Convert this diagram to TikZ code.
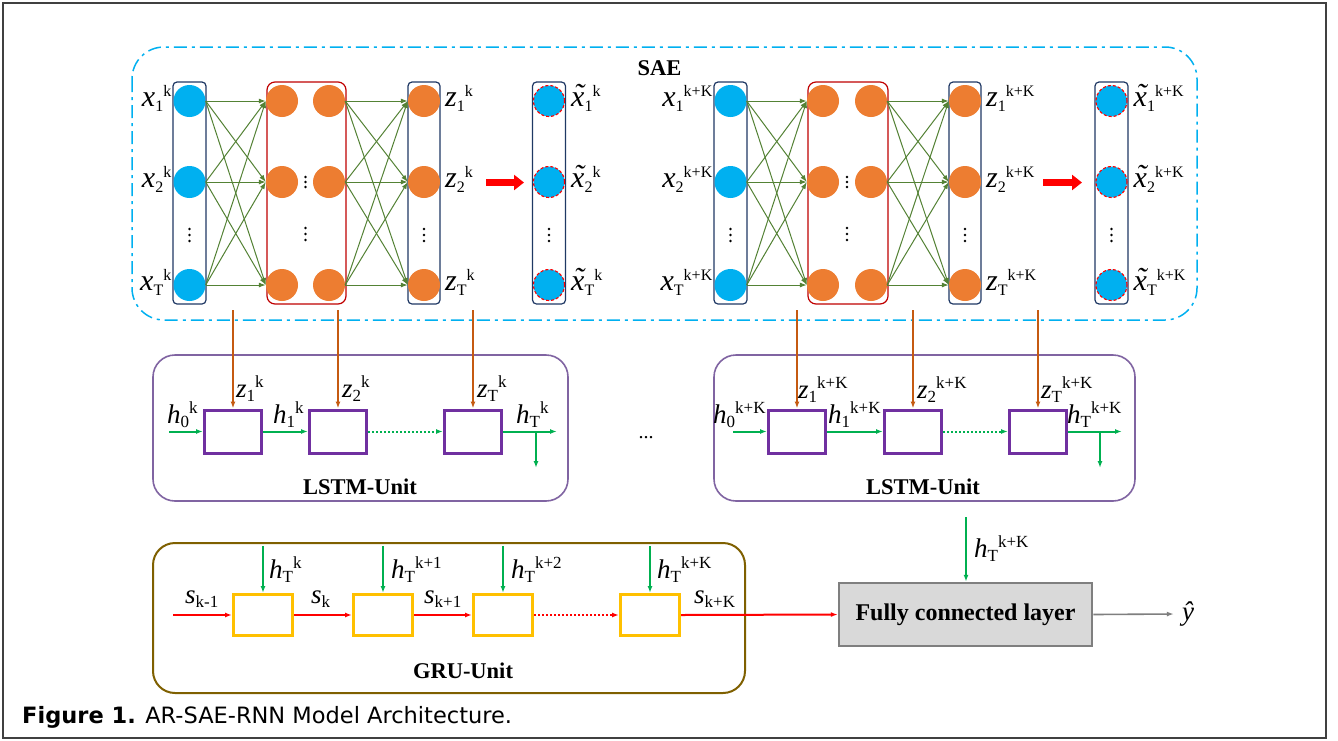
\documentclass[tikz,border=0pt]{standalone}
\usepackage{fontspec}
\setmainfont{Liberation Serif}
\newfontfamily\capfont{DejaVu Sans}
\usetikzlibrary{arrows.meta}
\definecolor{cyanc}{HTML}{00B0F0}
\definecolor{orc}{HTML}{ED7D31}
\definecolor{navyc}{HTML}{1F3864}
\definecolor{darkred}{HTML}{C00000}
\definecolor{olivec}{HTML}{548235}
\definecolor{burnt}{HTML}{C55A11}
\definecolor{lstmout}{HTML}{8064A2}
\definecolor{purplec}{HTML}{7030A0}
\definecolor{greenc}{HTML}{00B050}
\definecolor{gruout}{HTML}{7F6000}
\definecolor{goldc}{HTML}{FFC000}
\definecolor{redc}{HTML}{FF0000}
\definecolor{fcfill}{HTML}{D9D9D9}
\definecolor{fcdraw}{HTML}{7F7F7F}
\newcommand{\fsz}[1]{\fontsize{#1}{#1}\selectfont}
\newcommand{\tilx}{\ooalign{\textit{x}\cr\hidewidth\kern2pt\raisebox{0.04em}{\char"02DC}\hidewidth\cr}}
\newcommand{\labA}[3]{{\fsz{30}\textit{#1}}\raisebox{-5pt}{\fsz{16}#2}\raisebox{10pt}{\fsz{16}#3}}
\newcommand{\labB}[3]{{\fsz{27}\textit{#1}}\raisebox{-4pt}{\fsz{17}#2}\raisebox{10pt}{\fsz{17}#3}}
\newcommand{\vdts}[3]{\foreach \q in {-1,0,1}{\fill (#1,#2+\q*#3) circle (1.3pt);}}
\tikzset{
  bluec/.style={circle,fill=cyanc,minimum size=32pt,inner sep=0pt,draw=none},
  orangec/.style={circle,fill=orc,minimum size=32pt,inner sep=0pt,draw=none},
  outc/.style={circle,fill=cyanc,minimum size=31pt,inner sep=0pt,draw=redc,line width=1.1pt,dash pattern=on 3pt off 2pt},
  navybox/.style={draw=navyc,line width=1.2pt,rounded corners=4pt},
  redbox/.style={draw=darkred,line width=1.2pt,rounded corners=8pt},
  conn/.style={draw=olivec,line width=1pt,-{Latex[length=7pt,width=5pt]}},
  bigarrow/.style={draw=redc,line width=7pt,-{Triangle[length=10pt,width=15pt]}},
  orarrow/.style={draw=burnt,line width=2pt,-{Latex[length=7pt,width=5pt]}},
  garrow/.style={draw=greenc,line width=2pt,-{Latex[length=7pt,width=5pt]}},
  rarrow/.style={draw=redc,line width=2pt,-{Latex[length=7pt,width=5pt]}},
  lcell/.style={draw=purplec,line width=3pt,minimum width=57pt,minimum height=43pt,inner sep=0pt},
  gcell/.style={draw=goldc,line width=3pt,minimum width=59pt,minimum height=41pt,inner sep=0pt},
  outerbox/.style={line width=1.6pt,rounded corners=22pt},
  ttl/.style={font=\fsz{22.5}\bfseries,inner sep=0pt},
  lab/.style={inner sep=0pt}
}
\begin{document}
\begin{tikzpicture}[x=1pt,y=-1pt]
\useasboundingbox (0,0) rectangle (1338,740);
\fill[white] (0,0) rectangle (1338,740);
\draw[line width=1.8pt,black!75] (3,3) rectangle (1326,738);

% SAE container
\draw[cyanc,line width=1.5pt,rounded corners=32pt,dash pattern=on 13pt off 5pt on 3pt off 5pt] (132,47) rectangle (1197,320);
\node[ttl,anchor=base] (sae) at (659.5,75) {SAE};

\foreach \p/\a/\b/\c/\d/\e/\s/\ra/\rb/\m in {L/189.5/282/329/424/549/k/486/524/305.5, R/730.5/823/871/965/1111.5/k+K/1043/1082/847}{
  \draw[navybox] (\a-16.5,82) rectangle (\a+16.5,304);
  \draw[redbox] (\b-15,82) rectangle (\c+17,304);
  \draw[navybox] (\d-16,82) rectangle (\d+16,304);
  \draw[navybox] (\e-16.5,82) rectangle (\e+16.5,304);
  \foreach \r/\y/\t in {1/101/1,2/182/2,3/285/T}{
    \node[bluec] (\p i\r) at (\a,\y) {};
    \node[orangec] (\p h\r) at (\b,\y) {};
    \node[orangec] (\p g\r) at (\c,\y) {};
    \node[orangec] (\p c\r) at (\d,\y) {};
    \node[outc] (\p o\r) at (\e,\y) {};
    \node[lab,anchor=base east] (\p xl\r) at (\a-18,\y+5) {\labA{x}{\t}{\s}};
    \node[lab,anchor=base west] (\p zl\r) at (\d+21,\y+5) {\labA{z}{\t}{\s}};
    \node[lab,anchor=base west] (\p tl\r) at (\e+22,\y+5) {\labA{\tilx}{\t}{\s}};
  }
  \foreach \i in {1,2,3}{
    \foreach \j in {1,2,3}{
      \draw[conn] (\p i\i.east) -- (\p h\j.west);
      \draw[conn] (\p g\i.east) -- (\p c\j.west);
    }
  }
  \vdts{\a}{235}{6}
  \vdts{\d}{235}{6}
  \vdts{\e}{235}{6}
  \vdts{\m}{182}{5}
  \vdts{\m}{234}{6}
  \coordinate (\p a1) at (\ra,182.5);
  \coordinate (\p a2) at (\rb,182.5);
  \draw[bigarrow] (\p a1) -- (\p a2);
}

% LSTM left
\draw[outerbox,draw=lstmout] (153,355) rectangle (568,501);
\node[lcell] (Ll1) at (233,431.5) {};
\node[lcell] (Ll2) at (338,431.5) {};
\node[lcell] (Ll3) at (473,431.5) {};
\coordinate (Lv1) at (233,310); \coordinate (Lv2) at (338,310); \coordinate (Lv3) at (473,310);
\draw[orarrow] (Lv1) -- (Ll1.north);
\draw[orarrow] (Lv2) -- (Ll2.north);
\draw[orarrow] (Lv3) -- (Ll3.north);
\coordinate (Lh0) at (169,431.5);
\draw[garrow] (Lh0) -- (Ll1.west);
\draw[garrow] (Ll1.east) -- (Ll2.west);
\draw[garrow,dash pattern=on 2pt off 2pt] (Ll2.east) -- (Ll3.west);
\coordinate (LhT) at (557,431.5);
\draw[garrow] (Ll3.east) -- (LhT);
\coordinate (Ld1) at (536,431.5); \coordinate (Ld2) at (536,468);
\draw[garrow] (Ld1) -- (Ld2);
\node[lab,anchor=base west] (Lz1) at (236,397) {\labB{z}{1}{k}};
\node[lab,anchor=base west] (Lz2) at (342,397) {\labB{z}{2}{k}};
\node[lab,anchor=base west] (Lz3) at (477,397) {\labB{z}{T}{k}};
\node[lab,anchor=base west] (Lhl0) at (167,423) {\labB{h}{0}{k}};
\node[lab,anchor=base west] (Lhl1) at (273,423) {\labB{h}{1}{k}};
\node[lab,anchor=base west] (LhlT) at (516,423) {\labB{h}{T}{k}};
\node[ttl,anchor=base] (Lunit) at (360,494) {LSTM-Unit};

% LSTM right
\draw[outerbox,draw=lstmout] (714,355) rectangle (1135,501);
\node[lcell] (Rl1) at (797,431.5) {};
\node[lcell] (Rl2) at (913,431.5) {};
\node[lcell] (Rl3) at (1038,431.5) {};
\coordinate (Rv1) at (797,310); \coordinate (Rv2) at (913,310); \coordinate (Rv3) at (1038,310);
\draw[orarrow] (Rv1) -- (Rl1.north);
\draw[orarrow] (Rv2) -- (Rl2.north);
\draw[orarrow] (Rv3) -- (Rl3.north);
\coordinate (Rh0) at (733,431.5);
\draw[garrow] (Rh0) -- (Rl1.west);
\draw[garrow] (Rl1.east) -- (Rl2.west);
\draw[garrow,dash pattern=on 2pt off 2pt] (Rl2.east) -- (Rl3.west);
\coordinate (RhT) at (1122,431.5);
\draw[garrow] (Rl3.east) -- (RhT);
\coordinate (Rd1) at (1100,431.5); \coordinate (Rd2) at (1100,468);
\draw[garrow] (Rd1) -- (Rd2);
\node[lab,anchor=base west] (Rz1) at (798,398) {\labB{z}{1}{k+K}};
\node[lab,anchor=base west] (Rz2) at (917,398) {\labB{z}{2}{k+K}};
\node[lab,anchor=base west] (Rz3) at (1041,398) {\labB{z}{T}{k+K}};
\node[lab,anchor=base west] (Rhl0) at (713,423) {\labB{h}{0}{k+K}};
\node[lab,anchor=base west] (Rhl1) at (828,423) {\labB{h}{1}{k+K}};
\node[lab,anchor=base west] (RhlT) at (1067,423) {\labB{h}{T}{k+K}};
\node[ttl,anchor=base] (Runit) at (923,494) {LSTM-Unit};

\node[lab,font=\fsz{20}] (ell) at (646,438) {...};

% GRU
\draw[outerbox,draw=gruout,line width=2pt] (153,543) rectangle (745,693);
\node[gcell] (g1) at (263,615) {};
\node[gcell] (g2) at (383,615) {};
\node[gcell] (g3) at (503,615) {};
\node[gcell] (g4) at (650,615) {};
\foreach \i/\x in {1/263,2/383,3/503,4/650}{
  \coordinate (gt\i) at (\x,546);
  \draw[garrow] (gt\i) -- (g\i.north);
}
\coordinate (s0) at (173,615);
\draw[rarrow] (s0) -- (g1.west);
\draw[rarrow] (g1.east) -- (g2.west);
\draw[rarrow] (g2.east) -- (g3.west);
\draw[rarrow,dash pattern=on 2pt off 2pt] (g3.east) -- (g4.west);
\node[lab,anchor=base west] (gh1) at (269,578) {\labB{h}{T}{k}};
\node[lab,anchor=base west] (gh2) at (391,578) {\labB{h}{T}{k+1}};
\node[lab,anchor=base west] (gh3) at (511,578) {\labB{h}{T}{k+2}};
\node[lab,anchor=base west] (gh4) at (657,578) {\labB{h}{T}{k+K}};
\node[lab,anchor=base west] (gs0) at (185,603) {\labB{s}{k-1}{}};
\node[lab,anchor=base west] (gs1) at (311,603) {\labB{s}{k}{}};
\node[lab,anchor=base west] (gs2) at (424,603) {\labB{s}{k+1}{}};
\node[lab,anchor=base west] (gs3) at (694,603) {\labB{s}{k+K}{}};
\node[ttl,anchor=base] (gunit) at (463,678) {GRU-Unit};

% Fully connected
\node[draw=fcdraw,fill=fcfill,line width=2.5pt,minimum width=253pt,minimum height=63pt,inner sep=0pt,font=\fsz{24}\bfseries] (fc) at (965.5,614.5) {Fully connected layer};
\draw[rarrow] (g4.east) -- (fc.west);
\coordinate (fctop) at (966,517);
\draw[garrow] (fctop) -- (fctop |- fc.north);
\node[lab,anchor=base west] (fch) at (974,557) {\labB{h}{T}{k+K}};
\node[lab,font=\fsz{27}] (yhat) at (1188,614) {\textit{\^y}};
\draw[draw=fcdraw,line width=1.6pt,-{Latex[length=7pt,width=5pt]}] (fc.east) -- ([xshift=-8pt]yhat.west);

% caption
\node[lab,anchor=base west] (cap) at (22,723) {\capfont\fsz{22.5}\textbf{Figure 1.} AR-SAE-RNN Model Architecture.};
\end{tikzpicture}
\end{document}
